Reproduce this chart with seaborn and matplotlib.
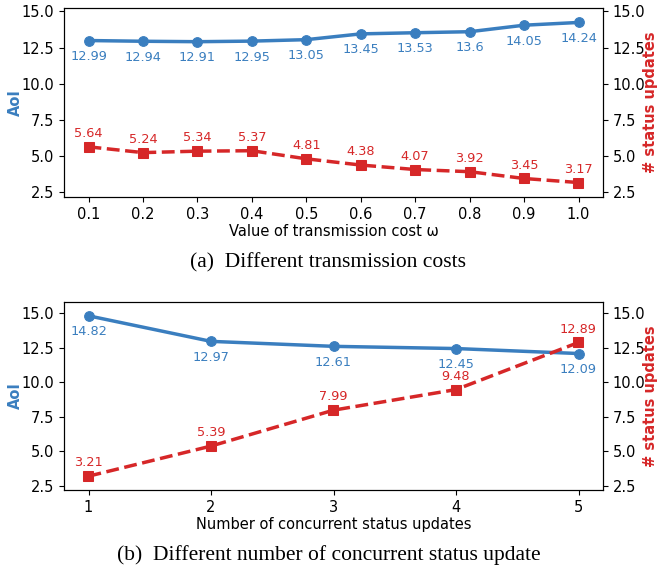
import matplotlib
matplotlib.use("Agg")
import matplotlib.pyplot as plt
import seaborn as sns
import pandas as pd

omega = [0.1, 0.2, 0.3, 0.4, 0.5, 0.6, 0.7, 0.8, 0.9, 1.0]
aoi_a = [12.99, 12.94, 12.91, 12.95, 13.05, 13.45, 13.53, 13.6, 14.05, 14.24]
upd_a = [5.64, 5.24, 5.34, 5.37, 4.81, 4.38, 4.07, 3.92, 3.45, 3.17]

conc = [1, 2, 3, 4, 5]
aoi_b = [14.82, 12.97, 12.61, 12.45, 12.09]
upd_b = [3.21, 5.39, 7.99, 9.48, 12.89]

xlabel_a = "Value of transmission cost ω"
xlabel_b = "Number of concurrent status updates"
caption_a = "(a)  Different transmission costs"
caption_b = "(b)  Different number of concurrent status update"

BLUE = "#3a7ebf"
RED = "#d62728"

sns.set_style("ticks", rc={"axes.edgecolor": "black", "text.color": "black",
                           "xtick.color": "black", "ytick.color": "black",
                           "axes.labelcolor": "black"})
plt.rcParams['font.family'] = ['DejaVu Sans']

fig = plt.figure(figsize=(6.57, 5.71), dpi=100)
ax_a = fig.add_axes([64/657, 1-197/571, 539/657, 189/571])
ax_b = fig.add_axes([64/657, 1-490/571, 539/657, 188/571])


def draw(ax, x, aoi, upd, xlabel, xticks, fmt):
    df = pd.DataFrame({"x": x, "aoi": aoi, "upd": upd})
    sns.lineplot(data=df, x="x", y="aoi", ax=ax, color=BLUE, marker="o",
                 markersize=7, linewidth=2.5, markeredgecolor=BLUE)
    ax2 = ax.twinx()
    sns.lineplot(data=df, x="x", y="upd", ax=ax2, color=RED, marker="s",
                 markersize=7, linewidth=2.5, linestyle="--", markeredgecolor=RED)
    lo = min(min(aoi), min(upd)) - 1
    hi = max(max(aoi), max(upd)) + 1
    ax.set_ylim(lo, hi)
    ax2.set_ylim(lo, hi)
    yt = [2.5, 5.0, 7.5, 10.0, 12.5, 15.0]
    ax.set_yticks(yt)
    ax2.set_yticks(yt)
    ax.set_yticklabels([f"{v:.1f}" for v in yt], fontsize=10.5)
    ax2.set_yticklabels([f"{v:.1f}" for v in yt], fontsize=10.5)
    ax.set_xticks(xticks)
    ax.set_xticklabels([fmt(v) for v in xticks], fontsize=10.5)
    ax.set_xlabel(xlabel, fontsize=10.5, labelpad=2)
    ax.set_ylabel("AoI", fontsize=10.5, fontweight="bold", color=BLUE)
    ax2.set_ylabel("# status updates", fontsize=10.5, fontweight="bold", color=RED)
    ax.yaxis.set_label_coords(-0.076, 0.5)
    ax2.yaxis.set_label_coords(1.074, 0.5)
    for xi, a, u in zip(x, aoi, upd):
        ax.annotate(f"{a:g}", (xi, a), xytext=(0, -11.5), textcoords="offset points",
                    ha="center", va="center", fontsize=9.3, color=BLUE)
        ax2.annotate(f"{u:g}", (xi, u), xytext=(0, 9.5), textcoords="offset points",
                     ha="center", va="center", fontsize=9.3, color=RED)
    for s in list(ax.spines.values()) + list(ax2.spines.values()):
        s.set_visible(True)
    return ax2


draw(ax_a, omega, aoi_a, upd_a, xlabel_a, omega, lambda v: f"{v:.1f}")
draw(ax_b, conc, aoi_b, upd_b, xlabel_b, conc, lambda v: f"{v:d}")

fig.text(0.5, 1-263/571, caption_a, ha="center", va="center", fontsize=15.5,
         family=["Liberation Serif", "DejaVu Serif"])
fig.text(0.5, 1-555/571, caption_b, ha="center", va="center", fontsize=15.5,
         family=["Liberation Serif", "DejaVu Serif"])

fig.savefig("out.png", dpi=100)
